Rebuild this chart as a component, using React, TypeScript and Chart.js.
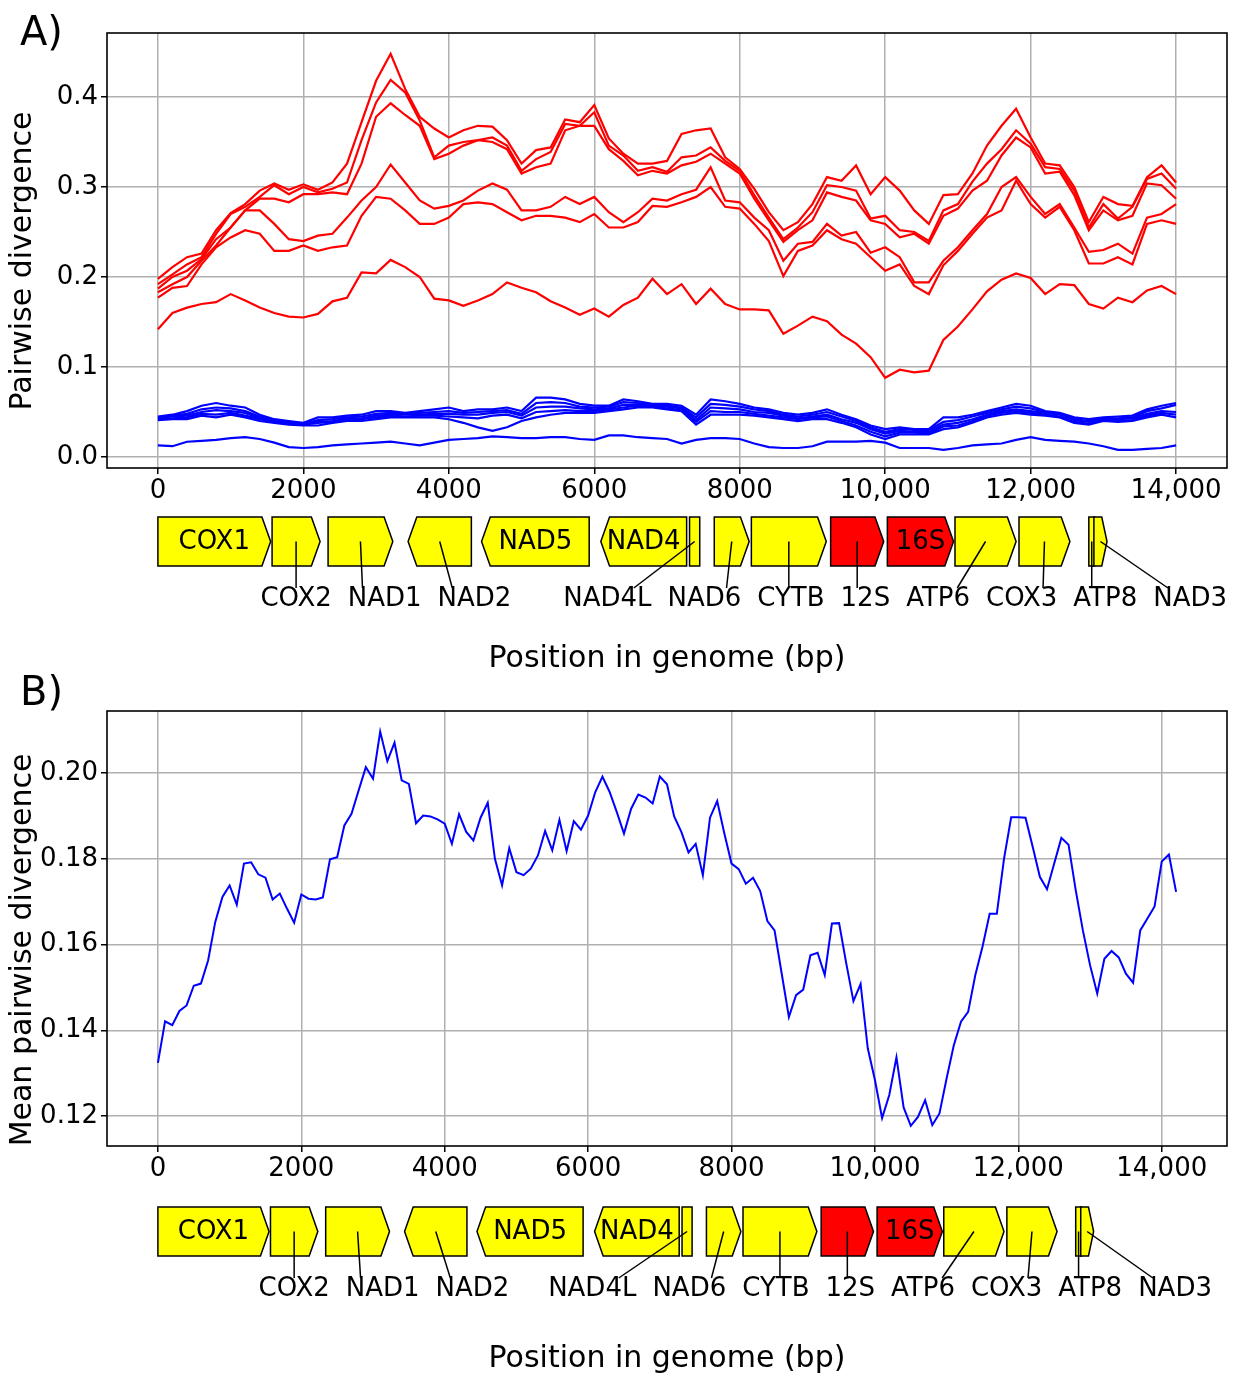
import React, { useEffect, useRef } from "react";
import { Chart, registerables } from "chart.js";

Chart.register(...registerables);

const FONT = "'DejaVu Sans', 'Liberation Sans', sans-serif";

// ---------- Shared x axis ----------
const xTickValues = [0, 2000, 4000, 6000, 8000, 10000, 12000, 14000];
const xTickLabels = ["0", "2000", "4000", "6000", "8000", "10,000", "12,000", "14,000"];

// ---------- Panel A: pairwise divergence, windows every 200 bp ----------
const positionsA = Array.from({ length: 71 }, (_, i) => i * 200);

const redA1 = [
  0.198, 0.211, 0.222, 0.226, 0.252, 0.271, 0.281, 0.296, 0.304, 0.297,
  0.303, 0.297, 0.305, 0.326, 0.372, 0.418, 0.448, 0.409, 0.378, 0.365,
  0.355, 0.363, 0.368, 0.367, 0.352, 0.326, 0.341, 0.344, 0.375, 0.372,
  0.391, 0.354, 0.337, 0.326, 0.326, 0.329, 0.359, 0.363, 0.365, 0.333,
  0.320, 0.298, 0.272, 0.252, 0.261, 0.281, 0.311, 0.307, 0.324, 0.292,
  0.311, 0.296, 0.274, 0.259, 0.291, 0.292, 0.315, 0.346, 0.368, 0.387,
  0.355, 0.326, 0.324, 0.300, 0.261, 0.289, 0.281, 0.279, 0.311, 0.324,
  0.305,
];
const redA2 = [
  0.192, 0.203, 0.214, 0.222, 0.248, 0.270, 0.278, 0.289, 0.302, 0.292,
  0.300, 0.294, 0.298, 0.305, 0.352, 0.394, 0.419, 0.405, 0.374, 0.333,
  0.346, 0.350, 0.352, 0.355, 0.346, 0.318, 0.331, 0.339, 0.370, 0.368,
  0.383, 0.346, 0.335, 0.318, 0.322, 0.317, 0.333, 0.335, 0.344, 0.329,
  0.318, 0.291, 0.266, 0.242, 0.255, 0.272, 0.302, 0.300, 0.296, 0.265,
  0.268, 0.252, 0.250, 0.240, 0.274, 0.281, 0.306, 0.326, 0.342, 0.363,
  0.348, 0.322, 0.320, 0.296, 0.255, 0.281, 0.265, 0.278, 0.309, 0.315,
  0.298,
];
const redA3 = [
  0.187, 0.200, 0.207, 0.220, 0.242, 0.255, 0.274, 0.287, 0.287, 0.283,
  0.292, 0.292, 0.294, 0.292, 0.326, 0.378, 0.393, 0.380, 0.368, 0.331,
  0.337, 0.346, 0.352, 0.350, 0.342, 0.315, 0.322, 0.326, 0.363, 0.368,
  0.368, 0.342, 0.329, 0.313, 0.318, 0.315, 0.324, 0.328, 0.337, 0.326,
  0.315, 0.287, 0.263, 0.239, 0.252, 0.263, 0.294, 0.289, 0.285, 0.263,
  0.259, 0.244, 0.248, 0.237, 0.268, 0.276, 0.296, 0.307, 0.335, 0.355,
  0.344, 0.315, 0.317, 0.291, 0.252, 0.274, 0.263, 0.268, 0.304, 0.302,
  0.287,
];
const redA4 = [
  0.183, 0.192, 0.200, 0.218, 0.235, 0.255, 0.274, 0.274, 0.259, 0.242,
  0.240, 0.246, 0.248, 0.266, 0.285, 0.300, 0.325, 0.305, 0.285, 0.276,
  0.279, 0.285, 0.296, 0.304, 0.297, 0.274, 0.274, 0.278, 0.289, 0.281,
  0.289, 0.272, 0.261, 0.272, 0.287, 0.285, 0.292, 0.297, 0.322, 0.285,
  0.283, 0.266, 0.252, 0.218, 0.237, 0.239, 0.259, 0.246, 0.250, 0.227,
  0.233, 0.222, 0.194, 0.194, 0.218, 0.233, 0.252, 0.270, 0.300, 0.311,
  0.289, 0.270, 0.281, 0.255, 0.228, 0.230, 0.237, 0.226, 0.266, 0.270,
  0.281,
];
const redA5 = [
  0.177, 0.188, 0.190, 0.214, 0.233, 0.244, 0.252, 0.248, 0.229, 0.229,
  0.235, 0.229, 0.233, 0.235, 0.268, 0.289, 0.287, 0.274, 0.259, 0.259,
  0.266, 0.281, 0.283, 0.281, 0.272, 0.263, 0.268, 0.268, 0.266, 0.261,
  0.270, 0.255, 0.255, 0.261, 0.279, 0.278, 0.283, 0.289, 0.300, 0.278,
  0.276, 0.259, 0.240, 0.201, 0.229, 0.235, 0.252, 0.242, 0.237, 0.222,
  0.207, 0.214, 0.190, 0.181, 0.213, 0.229, 0.248, 0.266, 0.274, 0.307,
  0.281, 0.266, 0.278, 0.252, 0.215, 0.215, 0.222, 0.214, 0.259, 0.263,
  0.259,
];
const redA6 = [
  0.142, 0.160, 0.166, 0.170, 0.172, 0.181, 0.174, 0.166, 0.160, 0.156,
  0.155, 0.159, 0.173, 0.177, 0.205, 0.204, 0.219, 0.211, 0.200, 0.176,
  0.174, 0.168, 0.174, 0.181, 0.194, 0.188, 0.183, 0.173, 0.166, 0.158,
  0.165, 0.156, 0.169, 0.177, 0.198, 0.181, 0.192, 0.170, 0.187, 0.170,
  0.164, 0.164, 0.163, 0.137, 0.146, 0.156, 0.151, 0.136, 0.126, 0.111,
  0.088, 0.097, 0.094, 0.096, 0.130, 0.145, 0.164, 0.184, 0.197, 0.204,
  0.199, 0.181, 0.192, 0.191, 0.170, 0.165, 0.177, 0.172, 0.185, 0.190,
  0.181,
];
const blueA1 = [
  0.045, 0.047, 0.051, 0.057, 0.060, 0.057, 0.055, 0.047, 0.042, 0.040,
  0.038, 0.044, 0.044, 0.046, 0.047, 0.051, 0.051, 0.049, 0.051, 0.053,
  0.055, 0.051, 0.053, 0.053, 0.055, 0.051, 0.066, 0.066, 0.064, 0.059,
  0.057, 0.057, 0.064, 0.062, 0.059, 0.059, 0.057, 0.047, 0.064, 0.062,
  0.059, 0.055, 0.053, 0.049, 0.047, 0.049, 0.053, 0.047, 0.042, 0.035,
  0.031, 0.033, 0.031, 0.031, 0.044, 0.044, 0.047, 0.051, 0.055, 0.059,
  0.057, 0.051, 0.049, 0.044, 0.042, 0.044, 0.045, 0.046, 0.053, 0.057,
  0.060,
];
const blueA2 = [
  0.044, 0.046, 0.048, 0.053, 0.055, 0.054, 0.051, 0.045, 0.041, 0.039,
  0.037, 0.041, 0.042, 0.044, 0.045, 0.048, 0.049, 0.048, 0.049, 0.050,
  0.051, 0.049, 0.050, 0.051, 0.052, 0.048, 0.060, 0.061, 0.060, 0.056,
  0.055, 0.056, 0.061, 0.060, 0.058, 0.057, 0.055, 0.044, 0.059, 0.058,
  0.056, 0.053, 0.051, 0.047, 0.045, 0.047, 0.050, 0.045, 0.040, 0.033,
  0.028, 0.031, 0.030, 0.030, 0.039, 0.041, 0.045, 0.049, 0.053, 0.056,
  0.054, 0.050, 0.048, 0.042, 0.040, 0.043, 0.043, 0.044, 0.051, 0.054,
  0.058,
];
const blueA3 = [
  0.043, 0.045, 0.046, 0.050, 0.052, 0.051, 0.049, 0.043, 0.040, 0.038,
  0.037, 0.039, 0.040, 0.043, 0.043, 0.046, 0.047, 0.047, 0.047, 0.048,
  0.048, 0.047, 0.047, 0.049, 0.050, 0.046, 0.055, 0.056, 0.056, 0.054,
  0.053, 0.054, 0.058, 0.058, 0.057, 0.056, 0.054, 0.041, 0.055, 0.054,
  0.053, 0.050, 0.049, 0.046, 0.043, 0.045, 0.047, 0.042, 0.038, 0.031,
  0.026, 0.029, 0.028, 0.028, 0.036, 0.038, 0.042, 0.047, 0.051, 0.053,
  0.051, 0.049, 0.047, 0.041, 0.039, 0.042, 0.042, 0.043, 0.048, 0.051,
  0.050,
];
const blueA4 = [
  0.042, 0.043, 0.044, 0.048, 0.047, 0.049, 0.046, 0.042, 0.039, 0.037,
  0.036, 0.038, 0.039, 0.041, 0.042, 0.044, 0.046, 0.045, 0.046, 0.046,
  0.045, 0.044, 0.043, 0.046, 0.047, 0.043, 0.050, 0.051, 0.052, 0.051,
  0.051, 0.053, 0.055, 0.057, 0.056, 0.054, 0.052, 0.039, 0.051, 0.050,
  0.050, 0.048, 0.046, 0.044, 0.042, 0.044, 0.045, 0.040, 0.035, 0.028,
  0.023, 0.027, 0.027, 0.026, 0.034, 0.035, 0.040, 0.046, 0.049, 0.051,
  0.049, 0.047, 0.045, 0.039, 0.037, 0.041, 0.040, 0.041, 0.046, 0.049,
  0.047,
];
const blueA5 = [
  0.041, 0.042, 0.042, 0.046, 0.044, 0.047, 0.044, 0.040, 0.038, 0.036,
  0.035, 0.035, 0.038, 0.040, 0.040, 0.042, 0.044, 0.044, 0.044, 0.044,
  0.042, 0.038, 0.033, 0.029, 0.033, 0.040, 0.044, 0.047, 0.049, 0.049,
  0.049, 0.051, 0.053, 0.055, 0.055, 0.053, 0.051, 0.036, 0.047, 0.047,
  0.047, 0.046, 0.044, 0.042, 0.040, 0.042, 0.042, 0.038, 0.033, 0.025,
  0.020, 0.025, 0.025, 0.025, 0.031, 0.033, 0.038, 0.044, 0.047, 0.049,
  0.047, 0.046, 0.044, 0.038, 0.036, 0.040, 0.039, 0.040, 0.044, 0.047,
  0.044,
];
const blueA6 = [
  0.013, 0.012, 0.017, 0.018, 0.019, 0.021, 0.022, 0.020, 0.016, 0.011,
  0.010, 0.011, 0.013, 0.014, 0.015, 0.016, 0.017, 0.015, 0.013, 0.016,
  0.019, 0.020, 0.021, 0.023, 0.022, 0.021, 0.021, 0.022, 0.022, 0.020,
  0.019, 0.024, 0.024, 0.022, 0.021, 0.020, 0.015, 0.019, 0.021, 0.021,
  0.020, 0.015, 0.011, 0.010, 0.010, 0.012, 0.017, 0.017, 0.017, 0.018,
  0.016, 0.010, 0.010, 0.010, 0.008, 0.010, 0.013, 0.014, 0.015, 0.019,
  0.022, 0.019, 0.018, 0.017, 0.015, 0.012, 0.008, 0.008, 0.009, 0.010,
  0.013,
];
const yTicksA = [0, 0.1, 0.2, 0.3, 0.4];

// ---------- Panel B: mean pairwise divergence, windows every 100 bp ----------
const positionsB = Array.from({ length: 143 }, (_, i) => i * 100);
const meanB = [
  0.1324, 0.1421, 0.1412, 0.1445, 0.1458, 0.1504, 0.1509, 0.1563, 0.1653, 0.1711,
  0.1738, 0.1693, 0.1789, 0.1792, 0.1764, 0.1756, 0.1705, 0.1719, 0.1684, 0.1651,
  0.1717, 0.1707, 0.1705, 0.1710, 0.1799, 0.1804, 0.1878, 0.1905, 0.1960, 0.2014,
  0.1987, 0.2097, 0.2028, 0.2071, 0.1983, 0.1975, 0.1883, 0.1901, 0.1899, 0.1892,
  0.1882, 0.1835, 0.1904, 0.1863, 0.1843, 0.1896, 0.1931, 0.1800, 0.1738, 0.1825,
  0.1769, 0.1762, 0.1777, 0.1808, 0.1865, 0.1820, 0.1891, 0.1818, 0.1888, 0.1868,
  0.1901, 0.1956, 0.1992, 0.1956, 0.1909, 0.1859, 0.1917, 0.1950, 0.1943, 0.1929,
  0.1992, 0.1974, 0.1899, 0.1863, 0.1815, 0.1835, 0.1762, 0.1896, 0.1935, 0.1859,
  0.1789, 0.1776, 0.1742, 0.1756, 0.1725, 0.1655, 0.1633, 0.1532, 0.1431, 0.1482,
  0.1495, 0.1575, 0.1581, 0.1529, 0.1649, 0.1650, 0.1556, 0.1468, 0.1508, 0.1358,
  0.1284, 0.1195, 0.1249, 0.1337, 0.1220, 0.1177, 0.1198, 0.1237, 0.1179, 0.1206,
  0.1288, 0.1365, 0.1420, 0.1443, 0.1529, 0.1595, 0.1672, 0.1672, 0.1800, 0.1897,
  0.1897, 0.1896, 0.1828, 0.1758, 0.1729, 0.1789, 0.1849, 0.1833, 0.1727, 0.1633,
  0.1552, 0.1486, 0.1567, 0.1585, 0.1570, 0.1532, 0.1511, 0.1633, 0.1661, 0.1689,
  0.1794, 0.1810, 0.1723,
];
const yTicksB = [0.12, 0.14, 0.16, 0.18, 0.2];

// ---------- Gene map (bp) ----------
const geneNames = ["COX1", "COX2", "NAD1", "NAD2", "NAD5", "NAD4", "NAD4L", "NAD6", "CYTB", "12S", "16S", "ATP6", "COX3", "ATP8", "NAD3"];
const geneStart = [0, 1570, 2340, 3440, 4450, 6090, 7310, 7650, 8160, 9250, 10030, 10960, 11840, 12800, 12870];
const geneEnd = [1550, 2230, 3230, 4310, 5930, 7270, 7450, 8130, 9190, 9980, 10940, 11800, 12540, 12880, 13050];
const geneStrand = [1, 1, 1, -1, -1, -1, 0, 1, 1, 1, 1, 1, 1, 0, 1];
const geneKind = ["cds", "cds", "cds", "cds", "cds", "cds", "cds", "cds", "cds", "rrna", "rrna", "cds", "cds", "cds", "cds"];
const geneLabelInside = [true, false, false, false, true, true, false, false, false, false, true, false, false, false, false];

const KIND_COLOR: Record<string, string> = { cds: "#ffff00", rrna: "#ff0000" };
const ARROW_HEAD_BP = 120;
const LABEL_GAP = 16;
const LABEL_LIMIT_BP = 14700;

const geneMapPlugin = {
  id: "geneMap",
  afterDatasetsDraw(chart: any) {
    const { ctx, chartArea: a } = chart;
    ctx.save();
    ctx.strokeStyle = "#000";
    ctx.lineWidth = 1.6;
    ctx.strokeRect(a.left, a.top, a.right - a.left, a.bottom - a.top);
    ctx.restore();
  },
  afterDraw(chart: any, _args: any, opts: any) {
    const ctx = chart.ctx;
    const xs = chart.scales.x;
    const { boxTop, boxBottom, labelY, letter, yTitle, yTitleY } = opts;
    const mid = (boxTop + boxBottom) / 2;
    const headPx = xs.getPixelForValue(ARROW_HEAD_BP) - xs.getPixelForValue(0);
    ctx.save();
    ctx.lineJoin = "miter";
    const centers: number[] = [];
    geneNames.forEach((_name, i) => {
      const x0 = xs.getPixelForValue(geneStart[i]);
      const x1 = xs.getPixelForValue(geneEnd[i]);
      centers.push((x0 + x1) / 2);
      const h = Math.min(headPx, (x1 - x0) * 0.4);
      ctx.beginPath();
      if (geneStrand[i] > 0) {
        ctx.moveTo(x0, boxTop);
        ctx.lineTo(x1 - h, boxTop);
        ctx.lineTo(x1, mid);
        ctx.lineTo(x1 - h, boxBottom);
        ctx.lineTo(x0, boxBottom);
      } else if (geneStrand[i] < 0) {
        ctx.moveTo(x0, mid);
        ctx.lineTo(x0 + h, boxTop);
        ctx.lineTo(x1, boxTop);
        ctx.lineTo(x1, boxBottom);
        ctx.lineTo(x0 + h, boxBottom);
      } else {
        ctx.rect(x0, boxTop, x1 - x0, boxBottom - boxTop);
      }
      ctx.closePath();
      ctx.fillStyle = KIND_COLOR[geneKind[i]];
      ctx.fill();
      ctx.strokeStyle = "#000";
      ctx.lineWidth = 1.5;
      ctx.stroke();
    });

    ctx.font = `26px ${FONT}`;
    ctx.fillStyle = "#000";
    ctx.textAlign = "center";
    ctx.textBaseline = "middle";
    geneNames.forEach((name, i) => {
      if (geneLabelInside[i]) ctx.fillText(name, centers[i], mid + 1);
    });

    // outside labels: pushed right from the gene centres, then kept inside the right limit
    const items = geneNames
      .map((name, i) => ({ i, name, p: centers[i], w: ctx.measureText(name).width, x: 0 }))
      .filter((it) => !geneLabelInside[it.i])
      .sort((a, b) => a.p - b.p);
    items.forEach((it, k) => {
      it.x = it.p;
      if (k > 0) {
        const prev = items[k - 1];
        it.x = Math.max(it.x, prev.x + prev.w / 2 + LABEL_GAP + it.w / 2);
      }
    });
    let limit = xs.getPixelForValue(LABEL_LIMIT_BP);
    for (let k = items.length - 1; k >= 0; k--) {
      const it = items[k];
      it.x = Math.min(it.x, limit - it.w / 2);
      limit = it.x - it.w / 2 - LABEL_GAP;
    }
    ctx.strokeStyle = "#000";
    ctx.lineWidth = 1.5;
    items.forEach((it) => {
      const d = Math.max(-0.3 * it.w, Math.min(0.3 * it.w, it.p - it.x));
      ctx.beginPath();
      ctx.moveTo(it.p, mid);
      ctx.lineTo(it.x + d, labelY - 11);
      ctx.stroke();
    });
    items.forEach((it) => ctx.fillText(it.name, it.x, labelY));

    // y axis title
    ctx.save();
    ctx.translate(23, yTitleY);
    ctx.rotate(-Math.PI / 2);
    ctx.font = `30px ${FONT}`;
    ctx.textAlign = "center";
    ctx.textBaseline = "middle";
    ctx.fillText(yTitle, 0, 0);
    ctx.restore();

    ctx.font = `40px ${FONT}`;
    ctx.textAlign = "left";
    ctx.textBaseline = "alphabetic";
    ctx.fillText(letter, 20, 45);
    ctx.restore();
  },
};

function lineSet(xs: number[], ys: number[], color: string, width: number) {
  return {
    data: xs.map((x, i) => ({ x, y: ys[i] })),
    borderColor: color,
    borderWidth: width,
    pointRadius: 0,
    tension: 0,
    fill: false,
  };
}

function makeConfig(p: any) {
  return {
    type: "line",
    data: { datasets: p.datasets },
    plugins: [geneMapPlugin],
    options: {
      responsive: false,
      animation: false,
      events: [],
      layout: { padding: { left: 0, right: 10, top: p.padTop, bottom: 0 } },
      plugins: {
        legend: { display: false },
        tooltip: { enabled: false },
        geneMap: {
          boxTop: p.boxTop,
          boxBottom: p.boxBottom,
          labelY: p.labelY,
          letter: p.letter,
          yTitle: p.yTitle,
          yTitleY: p.yTitleY,
        },
      },
      scales: {
        x: {
          type: "linear",
          min: p.xMin,
          max: p.xMax,
          afterBuildTicks: (ax: any) => {
            ax.ticks = xTickValues.map((v) => ({ value: v }));
          },
          afterFit: (ax: any) => {
            ax.height = p.xAxisHeight;
          },
          ticks: {
            autoSkip: false,
            maxRotation: 0,
            padding: 2,
            color: "#000",
            font: { family: FONT, size: 26 },
            callback: (_v: any, i: number) => xTickLabels[i],
          },
          grid: { color: "#b0b0b0", lineWidth: 1.5, tickColor: "#000", tickWidth: 1.5, tickLength: 6 },
          border: { display: false },
          title: {
            display: true,
            text: "Position in genome (bp)",
            color: "#000",
            font: { family: FONT, size: 30 },
            padding: { top: 0, bottom: p.xTitlePad },
          },
        },
        y: {
          type: "linear",
          min: p.yMin,
          max: p.yMax,
          afterBuildTicks: (ax: any) => {
            ax.ticks = p.yTicks.map((v: number) => ({ value: v }));
          },
          afterFit: (ax: any) => {
            ax.width = 107;
          },
          ticks: {
            padding: 3,
            color: "#000",
            font: { family: FONT, size: 26 },
            callback: (v: any) => Number(v).toFixed(p.yDecimals),
          },
          grid: { color: "#b0b0b0", lineWidth: 1.5, tickColor: "#000", tickWidth: 1.5, tickLength: 6 },
          border: { display: false },
          title: { display: false },
        },
      },
    },
  };
}

export default function App() {
  const refA = useRef<HTMLCanvasElement | null>(null);
  const refB = useRef<HTMLCanvasElement | null>(null);

  useEffect(() => {
    const RED = "#ff0000";
    const BLUE = "#0000ff";
    const chartA = new Chart(
      refA.current as HTMLCanvasElement,
      makeConfig({
        datasets: [
          lineSet(positionsA, redA1, RED, 2.2),
          lineSet(positionsA, redA2, RED, 2.2),
          lineSet(positionsA, redA3, RED, 2.2),
          lineSet(positionsA, redA4, RED, 2.2),
          lineSet(positionsA, redA5, RED, 2.2),
          lineSet(positionsA, redA6, RED, 2.2),
          lineSet(positionsA, blueA1, BLUE, 2.2),
          lineSet(positionsA, blueA2, BLUE, 2.2),
          lineSet(positionsA, blueA3, BLUE, 2.2),
          lineSet(positionsA, blueA4, BLUE, 2.2),
          lineSet(positionsA, blueA5, BLUE, 2.2),
          lineSet(positionsA, blueA6, BLUE, 2.2),
        ],
        padTop: 33,
        xAxisHeight: 221,
        xMin: -700,
        xMax: 14700,
        yMin: -0.0122,
        yMax: 0.4711,
        yTicks: yTicksA,
        yDecimals: 1,
        yTitle: "Pairwise divergence",
        yTitleY: 261,
        xTitlePad: 12,
        boxTop: 517,
        boxBottom: 566,
        labelY: 599,
        letter: "A)",
      }) as any
    );
    const chartB = new Chart(
      refB.current as HTMLCanvasElement,
      makeConfig({
        datasets: [lineSet(positionsB, meanB, BLUE, 2)],
        padTop: 51,
        xAxisHeight: 232,
        xMin: -710,
        xMax: 14910,
        yMin: 0.113,
        yMax: 0.2145,
        yTicks: yTicksB,
        yDecimals: 2,
        yTitle: "Mean pairwise divergence",
        yTitleY: 290,
        xTitlePad: 1,
        boxTop: 547,
        boxBottom: 596,
        labelY: 629,
        letter: "B)",
      }) as any
    );
    return () => {
      chartA.destroy();
      chartB.destroy();
    };
  }, []);

  return (
    <div style={{ position: "absolute", left: 0, top: 0, width: 1237, height: 1378, background: "#fff" }}>
      <canvas ref={refA} width={1237} height={689} style={{ position: "absolute", left: 0, top: 0 }} />
      <canvas ref={refB} width={1237} height={718} style={{ position: "absolute", left: 0, top: 660 }} />
    </div>
  );
}
